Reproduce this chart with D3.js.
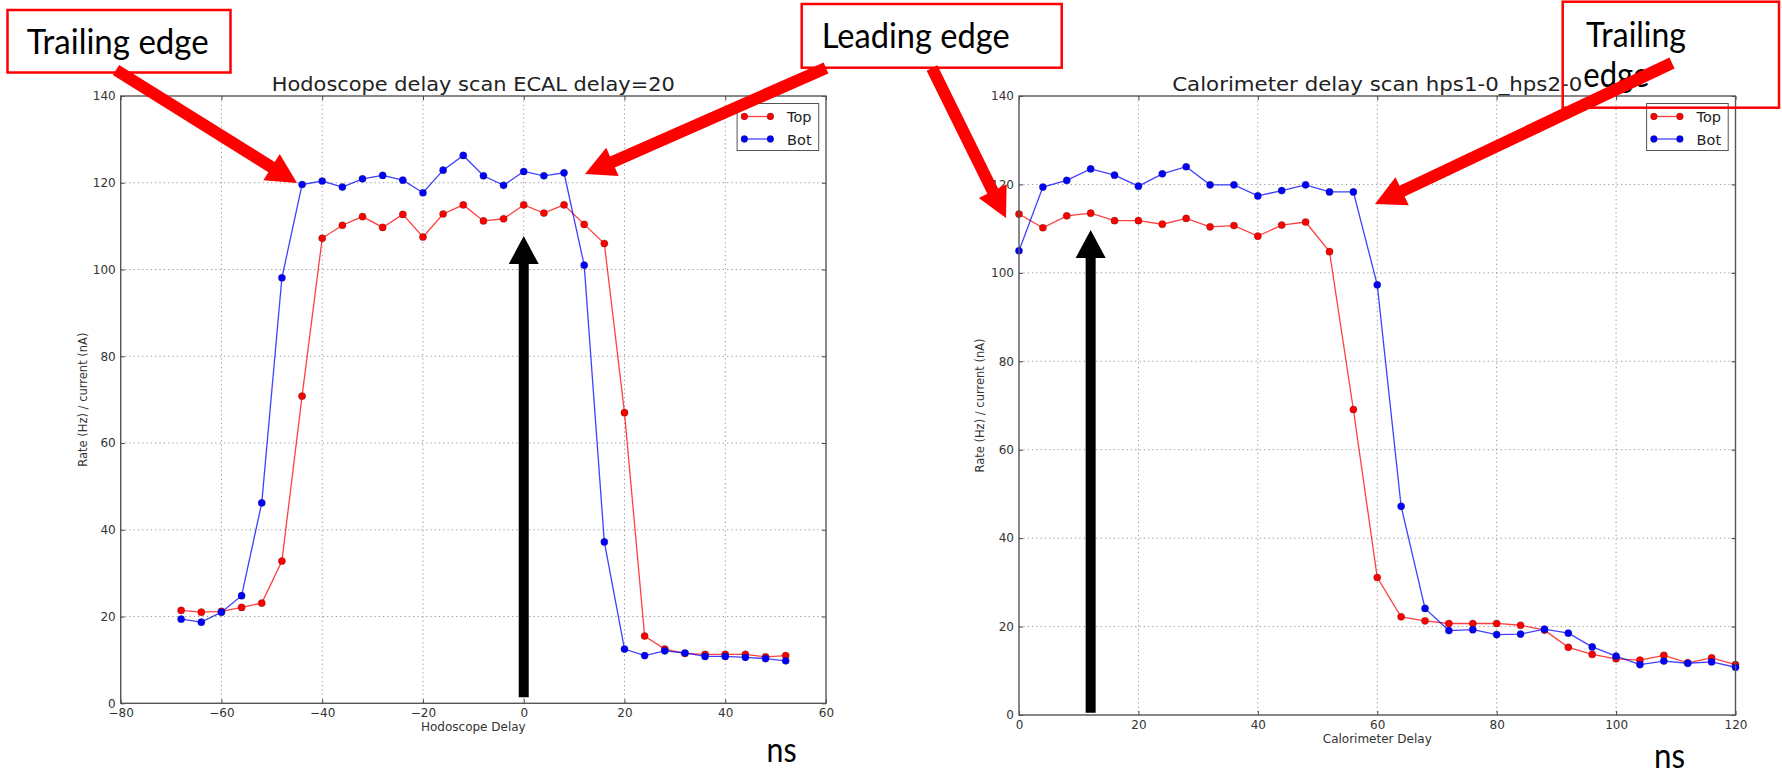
<!DOCTYPE html>
<html>
<head>
<meta charset="utf-8">
<script src="https://cdn.jsdelivr.net/npm/d3@7"></script>
<style>
  body { margin: 0; background: #fff; }
  svg { display: block; }
  .tick text { font-family: "DejaVu Sans", sans-serif; fill: #333; }
  .tick line { stroke: #444; }
</style>
</head>
<body>
<svg id="drawing_region"></svg>
<script>
// ---- data ----
const hodoDelay = [-68,-64,-60,-56,-52,-48,-44,-40,-36,-32,-28,-24,-20,-16,-12,-8,-4,0,4,8,12,16,20,24,28,32,36,40,44,48,52];
const hodoTop = [21.4,21.0,21.2,22.1,23.1,32.8,70.8,107.2,110.2,112.2,109.7,112.7,107.5,112.8,114.9,111.2,111.7,114.9,113.0,114.9,110.4,106.0,67.0,15.5,12.5,11.5,11.3,11.3,11.3,10.7,11.0];
const hodoBot = [19.4,18.7,21.0,24.8,46.2,98.1,119.6,120.4,119.0,120.9,121.7,120.6,117.7,122.9,126.3,121.6,119.4,122.6,121.6,122.3,101.0,37.2,12.5,11.0,12.1,11.6,10.8,10.8,10.6,10.3,9.8];

const caloDelay = [0,4,8,12,16,20,24,28,32,36,40,44,48,52,56,60,64,68,72,76,80,84,88,92,96,100,104,108,112,116,120];
const caloTop = [113.3,110.2,112.9,113.5,111.8,111.8,111.0,112.3,110.4,110.7,108.3,110.8,111.5,104.8,69.1,31.1,22.2,21.3,20.7,20.7,20.7,20.3,19.2,15.3,13.7,12.7,12.4,13.5,11.8,12.9,11.4];
const caloBot = [105.0,119.4,120.9,123.5,122.1,119.6,122.4,124.0,119.9,119.9,117.4,118.6,119.9,118.3,118.3,97.3,47.2,24.1,19.1,19.3,18.2,18.3,19.4,18.5,15.4,13.3,11.4,12.2,11.7,12.0,10.8];

const seriesNames = ["Top", "Bot"];
const seriesColors = ["#ff0000", "#0000ff"];
const yTicks = [0,20,40,60,80,100,120,140];
const hodoXTicks = [-80,-60,-40,-20,0,20,40,60];
const caloXTicks = [0,20,40,60,80,100,120];

const svg = d3.select('#drawing_region')
    .attr('width', 1782)
    .attr('height', 775);

svg.append('rect').attr('width', 1782).attr('height', 775).attr('fill', '#fff');

function drawPanel(cfg) {
    const w = cfg.right - cfg.left;
    const h = cfg.bottom - cfg.top;
    const g = svg.append('g').attr('transform', `translate(${cfg.left},${cfg.top})`);

    const x = d3.scaleLinear().domain(cfg.xDomain).range([0, w]);
    const y = d3.scaleLinear().domain([0, 140]).range([h, 0]);

    // dotted grid
    g.selectAll('.gx').data(cfg.xTicks.slice(1, -1)).enter().append('line')
        .attr('x1', d => x(d)).attr('x2', d => x(d))
        .attr('y1', 0).attr('y2', h)
        .attr('stroke', '#999').attr('stroke-width', 1).attr('stroke-dasharray', '1.3,3');
    g.selectAll('.gy').data(yTicks.slice(1, -1)).enter().append('line')
        .attr('x1', 0).attr('x2', w)
        .attr('y1', d => y(d)).attr('y2', d => y(d))
        .attr('stroke', '#999').attr('stroke-width', 1).attr('stroke-dasharray', '1.3,3');

    // axes, ticks pointing inward like matplotlib classic
    const xaxis = d3.axisBottom(x).tickValues(cfg.xTicks).tickSizeInner(-4).tickSizeOuter(0).tickPadding(cfg.xPad);
    const yaxis = d3.axisLeft(y).tickValues(yTicks).tickSizeInner(-4).tickSizeOuter(0).tickPadding(5);
    g.append('g').attr('transform', `translate(0,${h})`).call(xaxis)
        .call(a => a.select('.domain').remove())
        .selectAll('text').attr('font-size', 12);
    g.append('g').call(yaxis)
        .call(a => a.select('.domain').remove())
        .selectAll('text').attr('font-size', 12);
    g.append('g').call(d3.axisTop(x).tickValues(cfg.xTicks).tickSizeInner(-4).tickSizeOuter(0).tickFormat(''))
        .call(a => a.select('.domain').remove());
    g.append('g').attr('transform', `translate(${w},0)`)
        .call(d3.axisRight(y).tickValues(yTicks).tickSizeInner(-4).tickSizeOuter(0).tickFormat(''))
        .call(a => a.select('.domain').remove());

    // lines + markers
    const line = d3.line().x(d => x(d[0])).y(d => y(d[1]));
    cfg.series.forEach((vals, i) => {
        const pts = cfg.xs.map((d, j) => [d, vals[j]]);
        g.append('path').datum(pts)
            .attr('d', line)
            .attr('fill', 'none')
            .attr('stroke', seriesColors[i])
            .attr('stroke-opacity', 0.75)
            .attr('stroke-width', 1.3);
        g.selectAll('.m' + i).data(pts).enter().append('circle')
            .attr('cx', d => x(d[0])).attr('cy', d => y(d[1]))
            .attr('r', 3.6)
            .attr('fill', seriesColors[i])
            .attr('stroke', '#222').attr('stroke-opacity', 0.5).attr('stroke-width', 0.6);
    });

    // frame
    g.append('rect').attr('width', w).attr('height', h)
        .attr('fill', 'none').attr('stroke', '#555').attr('stroke-width', 1.4);

    // title & labels
    g.append('text')
        .attr('x', w / 2).attr('y', -5.3)
        .attr('text-anchor', 'middle')
        .attr('font-family', 'DejaVu Sans').attr('font-size', 19).attr('fill', '#222')
        .attr('textLength', cfg.titleLen).attr('lengthAdjust', 'spacingAndGlyphs')
        .text(cfg.title);
    g.append('text')
        .attr('x', w / 2).attr('y', h + cfg.xlabelOff)
        .attr('text-anchor', 'middle')
        .attr('font-family', 'DejaVu Sans').attr('font-size', 12).attr('fill', '#333')
        .text(cfg.xlabel);
    g.append('text')
        .attr('transform', `translate(${cfg.ylabelX},${h / 2}) rotate(-90)`)
        .attr('text-anchor', 'middle').attr('dy', '0.35em')
        .attr('font-family', 'DejaVu Sans').attr('font-size', 11.5).attr('fill', '#333')
        .text('Rate (Hz) / current (nA)');

    // legend
    const lx = w - 7.3 - 81.6, ly = 7.5;
    const lg = g.append('g').attr('transform', `translate(${lx},${ly})`);
    lg.append('rect').attr('width', 81.6).attr('height', 47)
        .attr('fill', '#fff').attr('stroke', '#555').attr('stroke-width', 1);
    seriesNames.forEach((name, i) => {
        const yy = 13 + i * 22.5;
        lg.append('line').attr('x1', 7.3).attr('x2', 33.3).attr('y1', yy).attr('y2', yy)
            .attr('stroke', seriesColors[i]).attr('stroke-opacity', 0.75).attr('stroke-width', 1.3);
        [7.3, 33.3].forEach(cx => lg.append('circle').attr('cx', cx).attr('cy', yy).attr('r', 3.4)
            .attr('fill', seriesColors[i]).attr('stroke', '#222').attr('stroke-opacity', 0.5).attr('stroke-width', 0.6));
        lg.append('text').attr('x', 50).attr('y', yy + 5.5)
            .attr('font-family', 'DejaVu Sans').attr('font-size', 14.5).attr('fill', '#222')
            .text(name);
    });

    // black pointer arrow placed on the data axis
    const bx = x(cfg.markX), by0 = y(cfg.markY0), by1 = y(cfg.markY1);
    g.append('path')
        .attr('d', `M${bx - 5},${by0} L${bx - 5},${by1 + 28} L${bx - 15},${by1 + 28} L${bx},${by1} L${bx + 15},${by1 + 28} L${bx + 5},${by1 + 28} L${bx + 5},${by0} Z`)
        .attr('fill', '#000');

    return { x, y };
}

drawPanel({
    left: 120.7, right: 826, top: 96, bottom: 703.3,
    xDomain: [-80, 60], xTicks: hodoXTicks, xPad: 5.2,
    xs: hodoDelay, series: [hodoTop, hodoBot],
    title: 'Hodoscope delay scan ECAL delay=20', titleLen: 403,
    xlabel: 'Hodoscope Delay', xlabelOff: 28,
    ylabelX: -37.5,
    markX: 0, markY0: 1.4, markY1: 107.7
});

drawPanel({
    left: 1019, right: 1735.5, top: 96, bottom: 715,
    xDomain: [0, 120], xTicks: caloXTicks, xPad: 5.5,
    xs: caloDelay, series: [caloTop, caloBot],
    title: 'Calorimeter delay scan hps1-0_hps2-0', titleLen: 410,
    xlabel: 'Calorimeter Delay', xlabelOff: 28,
    ylabelX: -39,
    markX: 12, markY0: 0.5, markY1: 109.7
});

// ---- slide annotations ----
const anno = svg.append('g');
const boxes = [
    { x: 7.5, y: 10, w: 223, h: 62.5 },
    { x: 801.7, y: 4, w: 260, h: 63.7 },
    { x: 1562.7, y: 1.7, w: 216.3, h: 106 }
];
anno.selectAll('.box').data(boxes).enter().append('rect')
    .attr('x', d => d.x).attr('y', d => d.y).attr('width', d => d.w).attr('height', d => d.h)
    .attr('fill', 'none').attr('stroke', '#ff0000').attr('stroke-width', 2.5);

const labels = [
    { t: 'Trailing edge', x: 26.7, y: 54, len: 182 },
    { t: 'Leading edge', x: 821.7, y: 47.7, len: 188 },
    { t: 'Trailing', x: 1586, y: 46.7, len: 100 },
    { t: 'edge', x: 1583.3, y: 87.3, len: 66 },
    { t: 'ns', x: 766.5, y: 761.7, len: 30 },
    { t: 'ns', x: 1654, y: 768, len: 31 }
];
anno.selectAll('.lab').data(labels).enter().append('text')
    .attr('x', d => d.x).attr('y', d => d.y)
    .attr('font-family', 'Lato, sans-serif').attr('font-size', 35).attr('fill', '#000')
    .attr('textLength', d => d.len).attr('lengthAdjust', 'spacingAndGlyphs')
    .text(d => d.t);

function arrowPath(x1, y1, x2, y2, sw, hl, hw) {
    const dx = x2 - x1, dy = y2 - y1, L = Math.hypot(dx, dy);
    const ux = dx / L, uy = dy / L, px = -uy, py = ux;
    const bx = x2 - ux * hl, by = y2 - uy * hl;
    const p = [
        [x1 + px * sw / 2, y1 + py * sw / 2],
        [bx + px * sw / 2, by + py * sw / 2],
        [bx + px * hw / 2, by + py * hw / 2],
        [x2, y2],
        [bx - px * hw / 2, by - py * hw / 2],
        [bx - px * sw / 2, by - py * sw / 2],
        [x1 - px * sw / 2, y1 - py * sw / 2]
    ];
    return 'M' + p.map(q => q.join(',')).join('L') + 'Z';
}

const redArrows = [
    [116, 70, 297, 183],
    [826, 68, 585, 174],
    [932, 68, 1006, 218],
    [1672, 63, 1375, 204]
];
anno.selectAll('.arr').data(redArrows).enter().append('path')
    .attr('d', d => arrowPath(d[0], d[1], d[2], d[3], 12, 30, 31))
    .attr('fill', '#ff0000');
</script>
</body>
</html>
